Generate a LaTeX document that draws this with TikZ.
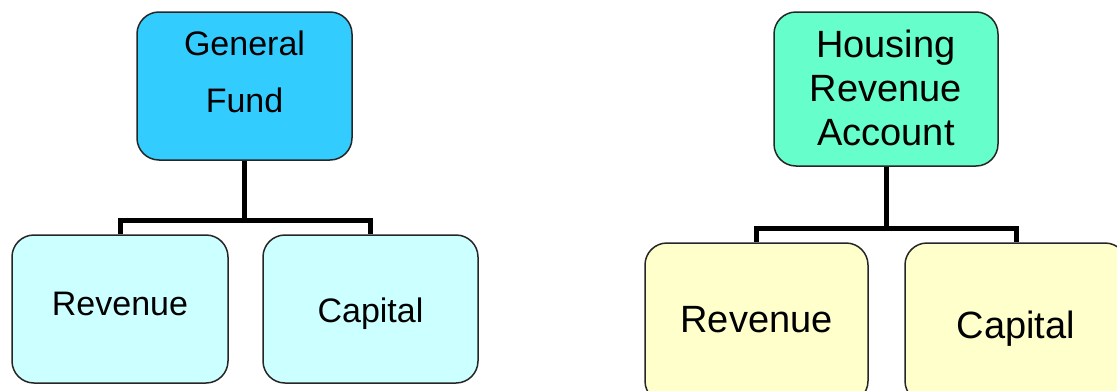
\documentclass[tikz,border=0pt]{standalone}
\usepackage{fontspec}
\setmainfont{Liberation Sans}
\definecolor{gfblue}{HTML}{33CCFF}
\definecolor{lightcyan}{HTML}{CCFFFF}
\definecolor{hragreen}{HTML}{66FFCC}
\definecolor{lightyellow}{HTML}{FFFFCC}
\begin{document}
\begin{tikzpicture}[x=1pt,y=-1pt,
  box/.style={draw=black!85, line width=1.5pt, rounded corners=22pt, rectangle, inner sep=0pt},
  conn/.style={draw=black, line width=5pt, line join=miter},
  smalltxt/.style={font=\fontsize{34}{40}\selectfont, inner sep=0pt, anchor=base},
  bigtxt/.style={font=\fontsize{38}{44}\selectfont, inner sep=0pt, anchor=base}]
\useasboundingbox (0,0) rectangle (1117,391);
\clip (0,0) rectangle (1117,391);
\fill[white] (0,0) rectangle (1117,391);
% left group
\node[box, fill=gfblue, minimum width=215pt, minimum height=148pt] (gf) at (244.5,86) {};
\node[box, fill=lightcyan, minimum width=216pt, minimum height=148pt] (gr) at (120,309) {};
\node[box, fill=lightcyan, minimum width=215pt, minimum height=148pt] (gc) at (370.5,309) {};
\coordinate (gj) at (244.5,220);
\draw[conn] (gf.south) -- (gj);
\draw[conn] (gr.north) |- (gj) -| (gc.north);
\node[smalltxt] (gft1) at (244.5,55) {General};
\node[smalltxt] (gft2) at (244.5,112) {Fund};
\node[smalltxt] (grt) at (120,315) {Revenue};
\node[smalltxt] (gct) at (370.5,322) {Capital};
% right group
\node[box, fill=hragreen, minimum width=224pt, minimum height=154pt] (hra) at (886,89) {};
\node[box, fill=lightyellow, minimum width=223pt, minimum height=160pt] (hr) at (756.5,323) {};
\node[box, fill=lightyellow, minimum width=222pt, minimum height=160pt] (hc) at (1016,323) {};
\coordinate (hj) at (886,228);
\draw[conn] (hra.south) -- (hj);
\draw[conn] (hr.north) |- (hj) -| (hc.north);
\node[bigtxt] (hrat1) at (886,57) {Housing};
\node[bigtxt] (hrat2) at (886,101) {Revenue};
\node[bigtxt] (hrat3) at (886,145) {Account};
\node[bigtxt] (hrt) at (756.5,332) {Revenue};
\node[bigtxt] (hct) at (1016,338) {Capital};
\end{tikzpicture}
\end{document}
